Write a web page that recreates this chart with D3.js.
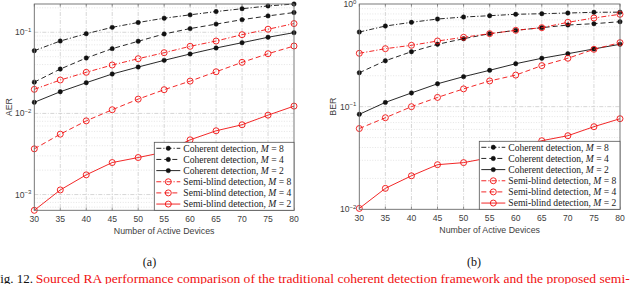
<!DOCTYPE html>
<html>
<head>
<meta charset="utf-8">
<script src="https://cdn.jsdelivr.net/npm/d3@7"></script>
<style>
    html, body { margin: 0; padding: 0; background: #fff; }
    svg { display: block; }
    .tick-label { font-family: "Liberation Sans", Arial, sans-serif; font-size: 8.6px; fill: #404040; }
    .axis-title { font-family: "Liberation Sans", Arial, sans-serif; font-size: 8.8px; fill: #404040; }
    .legend-text { font-family: "Liberation Serif", "Times New Roman", serif; font-size: 9.6px; fill: #222; }
    .caption { font-family: "Liberation Serif", "Times New Roman", serif; }
</style>
</head>
<body>
<svg id="chart" width="640" height="284"></svg>
<script>
// x axis: number of active devices
const devices = [30, 35, 40, 45, 50, 55, 60, 65, 70, 75, 80];

// (a) AER
const aerCoherentM8 = [0.0593, 0.078, 0.096, 0.115, 0.132, 0.149, 0.164, 0.180, 0.195, 0.211, 0.223];
const aerCoherentM4 = [0.0243, 0.0352, 0.0482, 0.0628, 0.0774, 0.0953, 0.111, 0.126, 0.143, 0.159, 0.175];
const aerCoherentM2 = [0.0137, 0.0185, 0.0239, 0.0306, 0.0373, 0.0451, 0.0540, 0.0640, 0.0744, 0.0868, 0.0989];
const aerSemiM8 = [0.0198, 0.0258, 0.0321, 0.0395, 0.0472, 0.056, 0.0671, 0.078, 0.0934, 0.109, 0.128];
const aerSemiM4 = [0.00366, 0.00555, 0.0081, 0.0111, 0.0150, 0.0196, 0.0250, 0.0326, 0.0426, 0.0544, 0.0677];
const aerSemiM2 = [0.00064, 0.00114, 0.00175, 0.00248, 0.00286, 0.00333, 0.00473, 0.00611, 0.00725, 0.00952, 0.0123];

// (b) BER
const berCoherentM8 = [0.533, 0.610, 0.663, 0.714, 0.747, 0.769, 0.794, 0.804, 0.817, 0.830, 0.833];
const berCoherentM4 = [0.214, 0.280, 0.343, 0.405, 0.459, 0.514, 0.554, 0.588, 0.624, 0.643, 0.672];
const berCoherentM2 = [0.0842, 0.110, 0.136, 0.167, 0.196, 0.226, 0.262, 0.296, 0.328, 0.365, 0.405];
const berSemiM8 = [0.331, 0.367, 0.396, 0.436, 0.474, 0.514, 0.554, 0.588, 0.663, 0.731, 0.794];
const berSemiM4 = [0.0612, 0.0780, 0.0999, 0.123, 0.149, 0.178, 0.203, 0.251, 0.296, 0.362, 0.420];
const berSemiM2 = [0.0102, 0.0160, 0.0212, 0.0272, 0.0285, 0.0318, 0.0387, 0.0466, 0.0521, 0.0638, 0.0763];

const xTicks = [30, 35, 40, 45, 50, 55, 60, 65, 70, 75, 80];
const aerTickExps = [-3, -2, -1];
const berTickExps = [-2, -1, 0];

const seriesNames = [
    'Coherent detection, ', 'Coherent detection, ', 'Coherent detection, ',
    'Semi-blind detection, ', 'Semi-blind detection, ', 'Semi-blind detection, '
];
const seriesM = [8, 4, 2, 8, 4, 2];

const svg = d3.select('#chart');

// line style per series (M = 8 dash-dot, M = 4 dashed, M = 2 solid)
function seriesStyle(i) {
    const dashes = ['5,2,1.2,2', '5,3', null];
    return {
        color: i < 3 ? '#111' : '#f01010',
        dash: dashes[i % 3],
        coherent: i < 3
    };
}

function drawPanel(cfg) {
    const x = d3.scaleLinear().domain([30, 80]).range([cfg.left, cfg.right]);
    const y = d3.scaleLog().domain(cfg.yDomain).range([cfg.bottom, cfg.top]);
    const g = svg.append('g');

    // minor grid (log)
    const minor = [];
    for (let e = Math.floor(Math.log10(cfg.yDomain[0])); e <= 0; e++) {
        for (let k = 2; k <= 9; k++) {
            const v = k * Math.pow(10, e);
            if (v > cfg.yDomain[0] && v < cfg.yDomain[1]) minor.push(v);
        }
    }
    g.selectAll('.minor').data(minor).enter().append('line')
        .attr('x1', cfg.left).attr('x2', cfg.right)
        .attr('y1', d => y(d)).attr('y2', d => y(d))
        .attr('stroke', '#d4d4d4').attr('stroke-width', 0.6)
        .attr('stroke-dasharray', '1,1.6');

    // major grid
    const majors = cfg.tickExps.map(e => Math.pow(10, e))
        .filter(v => v > cfg.yDomain[0] * 1.001 && v < cfg.yDomain[1] * 0.999);
    g.selectAll('.hmajor').data(majors).enter().append('line')
        .attr('x1', cfg.left).attr('x2', cfg.right)
        .attr('y1', d => y(d)).attr('y2', d => y(d))
        .attr('stroke', '#c4c4c4').attr('stroke-width', 0.7)
        .attr('stroke-dasharray', '4,1.5,1,1.5');
    g.selectAll('.vmajor').data(xTicks.slice(1, -1)).enter().append('line')
        .attr('x1', d => x(d)).attr('x2', d => x(d))
        .attr('y1', cfg.top).attr('y2', cfg.bottom)
        .attr('stroke', '#c4c4c4').attr('stroke-width', 0.7)
        .attr('stroke-dasharray', '4,1.5,1,1.5');

    // series
    const line = d3.line().x(d => x(d[0])).y(d => y(d[1]));
    cfg.series.forEach((vals, i) => {
        const st = seriesStyle(i);
        const pts = devices.map((d, j) => [d, vals[j]]);
        g.append('path').datum(pts)
            .attr('d', line)
            .attr('fill', 'none')
            .attr('stroke', st.color)
            .attr('stroke-width', 0.9)
            .attr('stroke-dasharray', st.dash);
        g.selectAll(null).data(pts).enter().append('circle')
            .attr('cx', d => x(d[0])).attr('cy', d => y(d[1]))
            .attr('r', st.coherent ? 2.2 : 3)
            .attr('fill', st.coherent ? st.color : 'none')
            .attr('stroke', st.color)
            .attr('stroke-width', st.coherent ? 0.5 : 0.9);
    });

    // axes box
    g.append('rect')
        .attr('x', cfg.left).attr('y', cfg.top)
        .attr('width', cfg.right - cfg.left).attr('height', cfg.bottom - cfg.top)
        .attr('fill', 'none').attr('stroke', '#6a6a6a').attr('stroke-width', 0.9);

    // inward ticks
    xTicks.forEach(t => {
        g.append('line').attr('x1', x(t)).attr('x2', x(t))
            .attr('y1', cfg.bottom).attr('y2', cfg.bottom - 2.5).attr('stroke', '#6a6a6a').attr('stroke-width', 0.7);
        g.append('line').attr('x1', x(t)).attr('x2', x(t))
            .attr('y1', cfg.top).attr('y2', cfg.top + 2.5).attr('stroke', '#6a6a6a').attr('stroke-width', 0.7);
    });

    // x tick labels
    g.selectAll('.xl').data(xTicks).enter().append('text')
        .attr('class', 'tick-label')
        .attr('x', d => x(d)).attr('y', cfg.bottom + 12)
        .attr('text-anchor', 'middle')
        .text(d => d);

    // y tick labels 10^e
    cfg.tickExps.forEach(e => {
        const t = g.append('text').attr('class', 'tick-label')
            .attr('x', cfg.left - 3).attr('y', y(Math.pow(10, e)) + 3)
            .attr('text-anchor', 'end');
        t.append('tspan').text('10');
        t.append('tspan').attr('dy', -3.5).style('font-size', '6px').text(e === 0 ? '0' : '\u2212' + (-e));
    });

    // axis titles
    g.append('text').attr('class', 'axis-title')
        .attr('x', (cfg.left + cfg.right) / 2).attr('y', cfg.bottom + 23.5)
        .attr('text-anchor', 'middle')
        .text('Number of Active Devices');
    g.append('text').attr('class', 'axis-title')
        .attr('transform', `translate(${cfg.yTitleX},${(cfg.top + cfg.bottom) / 2}) rotate(-90)`)
        .attr('text-anchor', 'middle')
        .text(cfg.yTitle);

    // legend, bottom right inside the axes
    const lg = g.append('g');
    lg.append('rect')
        .attr('x', cfg.legendLeft).attr('y', cfg.bottom - 68)
        .attr('width', cfg.right - cfg.legendLeft).attr('height', 68)
        .attr('fill', '#fff').attr('stroke', '#555').attr('stroke-width', 0.8);
    seriesNames.forEach((name, i) => {
        const st = seriesStyle(i);
        const ry = cfg.bottom - 62 + i * 11.15;
        const lx = cfg.legendLeft + 2;
        lg.append('line')
            .attr('x1', lx).attr('x2', lx + 24).attr('y1', ry).attr('y2', ry)
            .attr('stroke', st.color).attr('stroke-width', 0.9)
            .attr('stroke-dasharray', st.dash);
        lg.append('circle')
            .attr('cx', lx + 12).attr('cy', ry)
            .attr('r', st.coherent ? 2.2 : 3)
            .attr('fill', st.coherent ? st.color : 'none')
            .attr('stroke', st.color).attr('stroke-width', st.coherent ? 0.5 : 0.9);
        const t = lg.append('text').attr('class', 'legend-text')
            .attr('x', lx + 27).attr('y', ry + 3.3);
        t.append('tspan').text(name);
        t.append('tspan').style('font-style', 'italic').text('M');
        t.append('tspan').text(' = ' + seriesM[i]);
    });

    // sub caption
    svg.append('text').attr('class', 'caption')
        .attr('x', cfg.subX).attr('y', 265.5)
        .attr('text-anchor', 'middle')
        .style('font-size', '12px').attr('fill', '#111')
        .text(cfg.sub);
}

const aerSeries = [aerCoherentM8, aerCoherentM4, aerCoherentM2, aerSemiM8, aerSemiM4, aerSemiM2];
const berSeries = [berCoherentM8, berCoherentM4, berCoherentM2, berSemiM8, berSemiM4, berSemiM2];

drawPanel({
    left: 34.3, right: 294, top: 4, bottom: 210.3,
    yDomain: d3.extent(aerSeries.flat()),
    tickExps: aerTickExps, series: aerSeries,
    yTitle: 'AER', yTitleX: 12, legendLeft: 154.3,
    sub: '(a)', subX: 149.5
});

drawPanel({
    left: 359.3, right: 620, top: 4, bottom: 209.3,
    yDomain: [0.01, 1],
    tickExps: berTickExps, series: berSeries,
    yTitle: 'BER', yTitleX: 336, legendLeft: 479.3,
    sub: '(b)', subX: 474
});

// figure caption (cut off by the image edges)
svg.append('text').attr('class', 'caption')
    .attr('x', 33).attr('y', 282.5).attr('text-anchor', 'end')
    .style('font-size', '13px').attr('fill', '#111')
    .text('Fig. 12.');
svg.append('text').attr('class', 'caption')
    .attr('x', 35.7).attr('y', 282.5)
    .attr('textLength', 594).attr('lengthAdjust', 'spacingAndGlyphs')
    .style('font-size', '13px').attr('fill', '#f01010')
    .text('Sourced RA performance comparison of the traditional coherent detection framework and the proposed semi-');
</script>
</body>
</html>
